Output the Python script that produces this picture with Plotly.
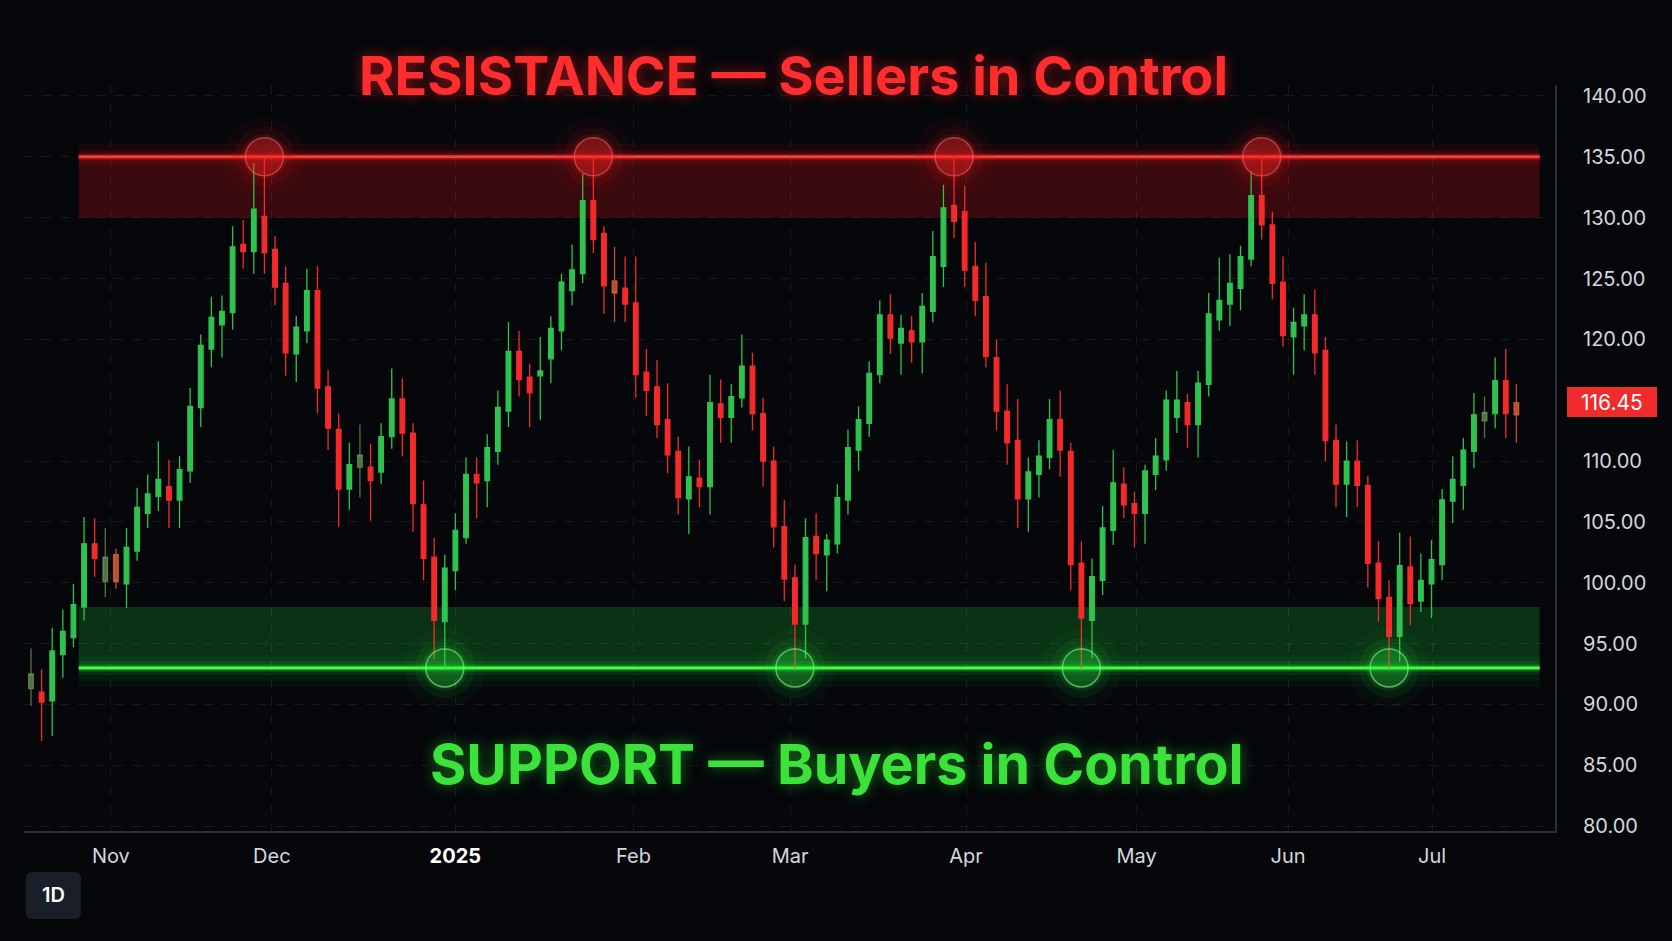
import plotly.graph_objects as go

# ---------------- data (daily candles) ----------------
opens = [91.3, 91.0, 90.3, 94.1, 95.5, 98.0, 103.2, 100.1, 102.3, 99.9,
         102.6, 105.7, 107.1, 107.9, 106.8, 109.2, 114.4, 119.2, 121.2, 122.2,
         127.8, 127.2, 130.1, 127.4, 124.6, 118.8, 120.7, 124.0, 116.1, 112.6,
         107.7, 109.5, 109.5, 109.1, 112.0, 115.1, 112.3, 106.4, 102.1, 96.8,
         101.0, 103.7, 108.9, 108.4, 110.8, 114.1, 119.0, 116.9, 117.0, 118.4,
         120.7, 124.0, 125.4, 131.4, 128.7, 124.8, 124.2, 123.0, 117.3, 116.1,
         113.4, 110.8, 106.9, 108.6, 107.9, 114.7, 113.6, 115.2, 117.8, 113.9,
         110.0, 104.6, 100.4, 96.6, 103.8, 102.3, 103.2, 106.8, 110.9, 113.1,
         117.1, 122.0, 119.7, 120.7, 119.8, 122.3, 126.0, 131.0, 130.5, 126.0,
         123.5, 118.5, 114.1, 111.7, 106.9, 108.9, 110.3, 113.4, 110.8, 101.6,
         96.9, 100.2, 104.3, 108.1, 106.5, 105.7, 108.9, 110.1, 113.6, 114.8,
         113.0, 116.3, 121.6, 122.9, 124.2, 126.6, 131.8, 129.4, 124.7, 120.2,
         121.1, 122.0, 119.1, 111.7, 108.1, 110.0, 108.0, 101.6, 98.8, 95.6,
         101.3, 98.5, 99.9, 101.5, 106.7, 108.0, 110.8, 113.3, 113.9, 116.6,
         114.8]
highs = [94.6, 92.9, 96.3, 97.8, 99.9, 105.4, 105.3, 104.5, 102.8, 104.5,
         107.8, 108.9, 111.6, 110.1, 110.4, 116.0, 120.4, 123.5, 123.6, 129.3,
         129.8, 134.5, 135.0, 128.5, 126.0, 121.9, 125.8, 126.0, 117.5, 113.9,
         111.5, 113.0, 111.4, 113.1, 117.6, 116.8, 113.1, 108.4, 103.7, 102.3,
         105.7, 110.3, 110.3, 112.2, 115.8, 121.4, 120.7, 118.0, 120.2, 121.9,
         125.4, 127.8, 133.6, 135.0, 129.3, 127.6, 126.8, 126.8, 119.2, 118.3,
         116.4, 112.0, 111.2, 110.1, 117.1, 116.7, 116.3, 120.4, 118.9, 115.2,
         111.2, 106.8, 101.5, 105.3, 105.7, 104.0, 108.1, 112.6, 114.5, 118.2,
         123.2, 123.7, 122.0, 121.9, 123.8, 128.9, 132.7, 135.0, 132.6, 128.0,
         126.3, 120.0, 116.3, 115.1, 110.3, 111.7, 115.1, 115.8, 111.5, 103.4,
         102.0, 106.3, 110.9, 109.5, 107.5, 109.7, 111.9, 115.8, 117.4, 115.5,
         117.4, 123.8, 126.7, 127.0, 127.7, 133.8, 135.0, 130.5, 126.8, 122.6,
         123.7, 124.1, 120.2, 113.0, 111.6, 111.7, 108.8, 103.4, 100.2, 104.1,
         103.8, 102.4, 103.5, 107.7, 110.4, 111.9, 115.6, 115.3, 118.5, 119.2,
         116.3]
lows = [89.9, 87.0, 87.4, 92.2, 94.7, 96.9, 100.5, 98.8, 99.5, 97.9,
        101.8, 104.5, 105.9, 104.5, 104.5, 108.2, 112.8, 117.7, 118.5, 120.8,
        125.8, 125.4, 125.4, 122.8, 117.0, 116.5, 119.7, 113.9, 110.9, 104.6,
        106.0, 107.0, 105.1, 108.1, 111.0, 110.4, 104.2, 100.2, 93.7, 93.0,
        99.4, 103.2, 105.3, 106.2, 109.7, 112.8, 115.3, 112.8, 113.4, 116.4,
        119.1, 122.8, 124.6, 127.1, 122.1, 121.4, 121.4, 115.2, 113.7, 111.9,
        109.0, 105.6, 104.0, 106.2, 105.6, 111.5, 111.5, 114.4, 112.5, 107.9,
        102.9, 98.5, 93.0, 93.8, 100.2, 99.3, 102.4, 105.6, 109.2, 112.0,
        116.4, 118.8, 117.1, 118.1, 117.2, 121.4, 124.3, 128.3, 124.3, 121.9,
        117.7, 112.5, 109.7, 104.5, 104.2, 107.0, 109.3, 108.7, 99.4, 93.0,
        93.8, 99.0, 103.1, 105.3, 102.9, 103.2, 107.6, 109.2, 112.3, 111.1,
        110.3, 115.3, 120.7, 121.1, 122.4, 126.0, 128.2, 123.3, 119.4, 117.1,
        119.1, 117.1, 110.0, 106.2, 105.4, 106.2, 99.6, 96.8, 93.0, 93.5,
        96.5, 97.6, 97.1, 100.2, 104.9, 106.0, 109.4, 111.9, 112.7, 111.9,
        111.5]
closes = [92.5, 90.2, 94.4, 96.0, 98.2, 103.2, 102.0, 102.1, 100.1, 102.9,
          106.2, 107.3, 108.5, 106.8, 109.3, 114.5, 119.5, 121.8, 122.3, 127.6,
          127.2, 130.7, 127.1, 124.3, 118.9, 121.0, 124.0, 116.0, 112.7, 107.7,
          109.7, 110.5, 108.4, 112.0, 115.1, 112.3, 106.5, 102.0, 96.9, 101.2,
          104.3, 108.9, 108.2, 111.1, 114.4, 119.0, 116.7, 115.6, 117.4, 120.9,
          124.7, 125.7, 131.4, 128.2, 124.4, 123.8, 122.9, 117.1, 115.8, 113.0,
          110.5, 107.0, 108.7, 107.9, 114.8, 113.6, 115.3, 117.8, 113.9, 110.0,
          104.6, 100.3, 96.6, 103.7, 102.4, 103.5, 107.0, 111.1, 113.4, 117.2,
          122.0, 120.1, 120.9, 119.8, 122.7, 126.8, 130.8, 129.7, 125.7, 123.2,
          118.6, 114.1, 111.5, 106.9, 109.1, 110.4, 113.4, 110.9, 101.5, 97.1,
          100.5, 104.5, 108.2, 106.4, 105.7, 109.2, 110.4, 115.0, 115.0, 113.0,
          116.4, 122.1, 123.2, 124.6, 126.8, 131.8, 129.4, 124.6, 120.3, 121.4,
          122.0, 118.9, 111.7, 108.1, 110.0, 108.0, 101.6, 98.7, 95.6, 101.4,
          98.3, 100.2, 101.9, 106.8, 108.5, 110.9, 113.8, 114.0, 116.6, 113.9,
          113.8]
faded_candles = [0, 7, 8, 31, 55, 137, 140]   # dimmed candles

month_ticks = [7.53, 22.70, 39.99, 56.78, 71.55, 88.13, 104.21, 118.48, 132.06]
month_labels = ["Nov", "Dec", "<b><span style='color:#ffffff'>2025</span></b>", "Feb",
                "Mar", "Apr", "May", "Jun", "Jul"]
price_ticks = [80, 85, 90, 95, 100, 105, 110, 120, 125, 130, 135, 140]
price_labels = [f"{p:.2f}" for p in price_ticks]

resistance_level = 135.0
resistance_zone = (130.0, 135.0)
support_level = 93.0
support_zone = (93.0, 98.0)
touch_tolerance = 0.3
last_price_text = "116.45"
title_top = "RESISTANCE — Sellers in Control"
title_bottom = "SUPPORT — Buyers in Control"
timeframe = "1D"

# ---------------- styling ----------------
BG = "#05070b"
GREEN = "#2fc24f"
RED = "#f42a2a"
GRID = "rgba(255,255,255,0.07)"
FONT = "Inter"

W, H = 1672, 941
ML, MR, MT, MB = 24, 117, 85, 110
X_RANGE = [-0.66, 143.64]
Y_RANGE = [79.6, 140.9]

n = len(closes)
idx = list(range(n))
main = [i for i in idx if i not in faded_candles]
dim = [i for i in idx if i in faded_candles]

fig = go.Figure()


def candle(ids, inc, dec, name):
    return go.Candlestick(
        x=ids, open=[opens[i] for i in ids], high=[highs[i] for i in ids],
        low=[lows[i] for i in ids], close=[closes[i] for i in ids],
        increasing=dict(line=dict(color=inc, width=1.3), fillcolor=inc),
        decreasing=dict(line=dict(color=dec, width=1.3), fillcolor=dec),
        whiskerwidth=0, hoverinfo="skip", name=name, showlegend=False)


fig.add_trace(candle(main, GREEN, RED, "price"))
fig.add_trace(candle(dim, "rgba(110,150,90,0.75)", "rgba(215,95,55,0.85)", "dim"))

# touch points derived from the data
res_touch = [i for i in idx if abs(highs[i] - resistance_level) <= touch_tolerance]
sup_touch = [i for i in idx if abs(lows[i] - support_level) <= touch_tolerance]

for size, alpha in [(80, 0.04), (60, 0.08), (46, 0.12)]:
    fig.add_trace(go.Scatter(x=res_touch, y=[resistance_level] * len(res_touch), mode="markers",
                             marker=dict(size=size, color=f"rgba(255,30,30,{alpha})", line=dict(width=0)),
                             hoverinfo="skip", showlegend=False))
    fig.add_trace(go.Scatter(x=sup_touch, y=[support_level] * len(sup_touch), mode="markers",
                             marker=dict(size=size, color=f"rgba(40,255,60,{alpha * 0.8})", line=dict(width=0)),
                             hoverinfo="skip", showlegend=False))
fig.add_trace(go.Scatter(x=res_touch, y=[resistance_level] * len(res_touch), mode="markers",
                         marker=dict(size=38, color="rgba(255,40,40,0.30)",
                                     line=dict(color="rgba(255,110,110,0.5)", width=1.5)),
                         hoverinfo="skip", showlegend=False))
fig.add_trace(go.Scatter(x=sup_touch, y=[support_level] * len(sup_touch), mode="markers",
                         marker=dict(size=38, color="rgba(50,255,70,0.15)",
                                     line=dict(color="rgba(130,255,140,0.6)", width=1.5)),
                         hoverinfo="skip", showlegend=False))

# ---------------- zones and lines ----------------
LX0, LX1 = 0.0357, 0.990
shapes = []
shapes.append(dict(type="rect", xref="paper", yref="y", x0=LX0, x1=LX1,
                   y0=resistance_zone[0], y1=resistance_zone[1],
                   fillcolor="rgba(210,15,20,0.25)", line=dict(width=0), layer="below"))
shapes.append(dict(type="rect", xref="paper", yref="y", x0=LX0, x1=LX1,
                   y0=support_zone[0], y1=support_zone[1],
                   fillcolor="rgba(30,190,50,0.24)", line=dict(width=0), layer="below"))
# soft glow just outside the zones
shapes.append(dict(type="rect", xref="paper", yref="y", x0=LX0, x1=LX1,
                   y0=support_level - 1.6, y1=support_level,
                   fillcolor="rgba(30,230,60,0.045)", line=dict(width=0), layer="below"))
shapes.append(dict(type="rect", xref="paper", yref="y", x0=LX0, x1=LX1,
                   y0=resistance_level, y1=resistance_level + 1.2,
                   fillcolor="rgba(255,20,20,0.035)", line=dict(width=0), layer="below"))
for wdt, col in [(26, "rgba(255,30,30,0.045)"), (14, "rgba(255,30,30,0.09)"),
                 (7, "rgba(255,40,40,0.22)"), (3, "#ff3434")]:
    shapes.append(dict(type="line", xref="paper", yref="y", x0=LX0, x1=LX1,
                       y0=resistance_level, y1=resistance_level,
                       line=dict(color=col, width=wdt), layer="between"))
for wdt, col in [(26, "rgba(40,255,60,0.045)"), (14, "rgba(40,255,60,0.09)"),
                 (7, "rgba(50,255,70,0.22)"), (3, "#3dff3d")]:
    shapes.append(dict(type="line", xref="paper", yref="y", x0=LX0, x1=LX1,
                       y0=support_level, y1=support_level,
                       line=dict(color=col, width=wdt), layer="between"))

# price tag on the right axis
TAG_Y = 114.85
pw = W - ML - MR
ph = H - MT - MB
def px_x(p):
    return (p - ML) / pw
def px_y(p):
    return 1 - (p - MT) / ph

shapes.append(dict(type="rect", xref="paper", yref="y", x0=px_x(1567), x1=px_x(1657),
                   y0=TAG_Y - 1.23, y1=TAG_Y + 1.23, fillcolor="#f02b2b",
                   line=dict(width=0), layer="above"))


def rounded(x0, y0, x1, y1, r):
    rx, ry = r / pw, r / ph
    return (f"M{x0+rx},{y0} L{x1-rx},{y0} Q{x1},{y0} {x1},{y0+ry} L{x1},{y1-ry} "
            f"Q{x1},{y1} {x1-rx},{y1} L{x0+rx},{y1} Q{x0},{y1} {x0},{y1-ry} "
            f"L{x0},{y0+ry} Q{x0},{y0} {x0+rx},{y0} Z")

shapes.append(dict(type="path", xref="paper", yref="paper",
                   path=rounded(px_x(25.6), px_y(919), px_x(81), px_y(872), 7),
                   fillcolor="#1a1e26", line=dict(width=0), layer="above"))

annotations = [
    dict(text=title_top, xref="paper", yref="paper", x=px_x(793), y=px_y(75),
         xanchor="center", yanchor="middle", showarrow=False,
         font=dict(family=FONT, size=54, color="#ff2d2d", weight=700,
                   shadow="0px 0px 14px rgba(255,30,30,0.55)")),
    dict(text=title_bottom, xref="paper", yref="paper", x=px_x(837), y=px_y(763.5),
         xanchor="center", yanchor="middle", showarrow=False,
         font=dict(family=FONT, size=55.5, color="#3ae23a", weight=700,
                   shadow="0px 0px 14px rgba(40,230,40,0.5)")),
    dict(text=last_price_text, xref="paper", yref="y", x=px_x(1612), y=TAG_Y,
         xanchor="center", yanchor="middle", showarrow=False,
         font=dict(family=FONT, size=21, color="#ffffff")),
    dict(text=timeframe, xref="paper", yref="paper", x=px_x(53.3), y=px_y(895.5),
         xanchor="center", yanchor="middle", showarrow=False,
         font=dict(family=FONT, size=20, color="#ffffff", weight=600)),
]

fig.update_layout(
    width=W, height=H, margin=dict(l=ML, r=MR, t=MT, b=MB),
    paper_bgcolor=BG, plot_bgcolor=BG, showlegend=False,
    boxgap=0.38, shapes=shapes, annotations=annotations,
    font=dict(family=FONT, color="#d4d7dc"),
    xaxis=dict(range=X_RANGE, tickmode="array", tickvals=month_ticks, ticktext=month_labels,
               showgrid=True, gridcolor=GRID, griddash="dash", gridwidth=1,
               zeroline=False, showline=True, linecolor="#2a2f38", linewidth=2,
               ticks="", ticklabelstandoff=6, tickfont=dict(size=20, color="#d4d7dc"),
               rangeslider=dict(visible=False), fixedrange=True),
    yaxis=dict(range=Y_RANGE, side="right", tickmode="array", tickvals=price_ticks,
               ticktext=price_labels, showgrid=True, gridcolor=GRID, griddash="dash",
               gridwidth=1, zeroline=False, showline=True, linecolor="#2a2f38", linewidth=2,
               ticks="", ticklabelstandoff=22, tickfont=dict(size=20, color="#d4d7dc"),
               fixedrange=True),
)

fig.write_html("out.html", config={"displayModeBar": False},
               post_script="document.body.style.margin='0';")
